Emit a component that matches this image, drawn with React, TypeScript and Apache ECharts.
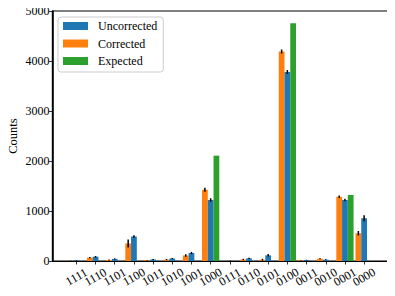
import React, { useEffect, useRef } from "react";
import * as echarts from "echarts";

const categories = ["1111", "1110", "1101", "1100", "1011", "1010", "1001", "1000", "0111", "0110", "0101", "0100", "0011", "0010", "0001", "0000"];
const uncorrected = [13, 85, 42, 490, 30, 50, 160, 1220, 3, 53, 113, 3780, 18, 27, 1220, 855];
const uncorrectedErr = [5, 15, 10, 25, 8, 10, 22, 35, 2, 12, 25, 40, 6, 8, 25, 60];
const corrected = [3, 68, 20, 350, 13, 27, 110, 1425, 0, 30, 25, 4190, 13, 45, 1285, 555];
const correctedErr = [4, 12, 12, 80, 6, 12, 25, 40, 1, 14, 18, 40, 5, 12, 25, 45];
const expected = [0, 0, 0, 0, 0, 0, 0, 2107, 0, 0, 0, 4753, 0, 0, 1322, 0];
const yTicks = [0, 1000, 2000, 3000, 4000, 5000];

const BLUE = "#1f77b4";
const ORANGE = "#ff7f0e";
const GREEN = "#2ca02c";
const FONT = "Liberation Serif";
const BAR_W = 0.3;
const X_MIN = -1.245;
const X_MAX = 16.245;

function barSeries(name: string, color: string, values: number[], offset: number) {
  return {
    name,
    type: "custom",
    itemStyle: { color },
    data: values.map((v, i) => [i + offset, v]),
    encode: { x: 0, y: 1 },
    renderItem: (_p: any, api: any) => {
      const x = api.value(0);
      const y = api.value(1);
      const a = api.coord([x - BAR_W / 2, y]);
      const b = api.coord([x + BAR_W / 2, 0]);
      return {
        type: "rect",
        shape: { x: a[0], y: a[1], width: b[0] - a[0], height: b[1] - a[1] },
        style: { fill: color },
      };
    },
  };
}

function errSeries(values: number[], errs: number[], offset: number) {
  return {
    type: "custom",
    silent: true,
    z: 5,
    data: values.map((v, i) => [i + offset, v, errs[i]]),
    encode: { x: 0, y: 1 },
    renderItem: (_p: any, api: any) => {
      const x = api.value(0);
      const y = api.value(1);
      const e = api.value(2);
      const a = api.coord([x, y + e]);
      const b = api.coord([x, Math.max(0, y - e)]);
      return {
        type: "line",
        shape: { x1: a[0], y1: a[1], x2: b[0], y2: b[1] },
        style: { stroke: "#000", lineWidth: 1.5 },
      };
    },
  };
}

function xAxisFor(values: number[]) {
  return {
    type: "value",
    position: "bottom",
    offset: 0,
    min: X_MIN,
    max: X_MAX,
    splitLine: { show: false },
    axisLine: { show: true, onZero: false, lineStyle: { color: "#000", width: 1 } },
    axisTick: { show: true, inside: false, length: 3.5, customValues: values, lineStyle: { color: "#000", width: 0.8 } },
    axisLabel: {
      customValues: values,
      showMinLabel: true,
      showMaxLabel: true,
      hideOverlap: false,
      formatter: (v: number) => categories[Math.round(v)] ?? "",
      rotate: 30,
      align: "center",
      verticalAlign: "middle",
      margin: 16,
      fontFamily: FONT,
      fontSize: 12,
      color: "#000",
    },
  };
}

export default function App() {
  const ref = useRef<HTMLDivElement>(null);
  useEffect(() => {
    if (!ref.current) return;
    const chart = echarts.init(ref.current, null, { renderer: "svg" });
    const even = categories.map((_, i) => i).filter((i) => i % 2 === 0);
    const odd = categories.map((_, i) => i).filter((i) => i % 2 === 1);
    chart.setOption({
      animation: false,
      backgroundColor: "#fff",
      grid: {
        left: 52.5, top: 11, right: 7, bottom: 35,
        outerBoundsMode: "none",
        containLabel: false,
        show: true, borderColor: "#000", borderWidth: 1.2, backgroundColor: "transparent",
      },
      legend: {
        data: ["Uncorrected", "Corrected", "Expected"],
        orient: "vertical",
        left: 58,
        top: 17,
        icon: "rect",
        itemWidth: 25,
        itemHeight: 8,
        itemGap: 3.5,
        padding: [2, 6, 4, 5],
        backgroundColor: "rgba(255,255,255,0.8)",
        borderColor: "#cccccc",
        borderWidth: 1,
        borderRadius: 3,
        textStyle: { fontFamily: FONT, fontSize: 12, color: "#000", lineHeight: 14, padding: [0, 0, 0, 5] },
      },
      xAxis: [xAxisFor(even), xAxisFor(odd)],
      yAxis: {
        type: "value",
        position: "left",
        min: yTicks[0],
        max: yTicks[yTicks.length - 1],
        interval: 1000,
        name: "Counts",
        nameLocation: "middle",
        nameRotate: 90,
        nameGap: 33,
        nameMoveOverlap: false,
        nameTextStyle: { fontFamily: FONT, fontSize: 12.5, color: "#000" },
        splitLine: { show: false },
        axisLine: { show: true, onZero: false, lineStyle: { color: "#000", width: 1.5 } },
        axisTick: { show: true, inside: false, length: 3.5, lineStyle: { color: "#000", width: 0.8 } },
        axisLabel: { margin: 3, formatter: (v: number) => String(v), fontFamily: FONT, fontSize: 12, color: "#000" },
      },
      series: [
        barSeries("Corrected", ORANGE, corrected, -0.3),
        barSeries("Uncorrected", BLUE, uncorrected, 0),
        barSeries("Expected", GREEN, expected, 0.3),
        errSeries(corrected, correctedErr, -0.3),
        errSeries(uncorrected, uncorrectedErr, 0),
        {
          type: "custom",
          silent: true,
          clip: false,
          z: 10,
          data: [[X_MIN, yTicks[0], yTicks[yTicks.length - 1]]],
          encode: { x: 0, y: 1 },
          renderItem: (_p: any, api: any) => {
            const a = api.coord([api.value(0), api.value(1)]);
            const b = api.coord([api.value(0), api.value(2)]);
            return {
              type: "line",
              shape: { x1: a[0], y1: a[1], x2: b[0], y2: b[1] },
              style: { stroke: "#000", lineWidth: 1.2 },
            };
          },
        },
      ],
    });
    return () => chart.dispose();
  }, []);
  return <div ref={ref} style={{ width: 395, height: 296, margin: -8 }} />;
}
